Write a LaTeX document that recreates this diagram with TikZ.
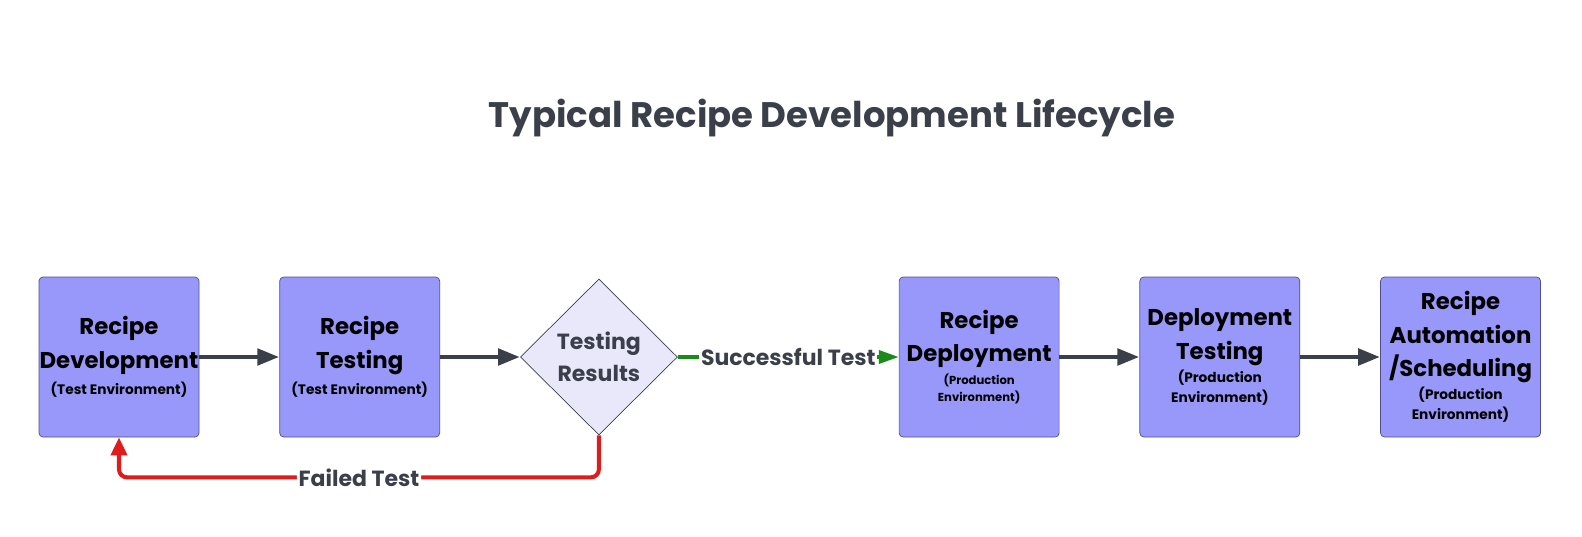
\documentclass[tikz,border=0pt]{standalone}
\usepackage{fontspec}
\setmainfont{Poppins}
\usepackage{xcolor}
\usepackage{tikz}
\usetikzlibrary{arrows.meta,positioning,shapes.geometric,calc}
\definecolor{stepfill}{HTML}{9898FA}
\definecolor{stepdraw}{HTML}{4E4E8E}
\definecolor{decfill}{HTML}{E8E8FA}
\definecolor{darkgray}{HTML}{3A3F4A}
\definecolor{okgreen}{HTML}{1A8A1A}
\definecolor{failred}{HTML}{E01B1B}
\newcommand{\envfont}{\fontsize{7.8}{10}\selectfont\bfseries}
\newcommand{\envsmall}{\fontsize{6.6}{9}\selectfont\bfseries}
\tikzset{
  stepbox/.style={rounded corners=0.08cm, draw=stepdraw, fill=stepfill, align=center, minimum width=3.2cm, minimum height=3.2cm, inner sep=0pt, font=\fontsize{13}{19}\selectfont\bfseries},
  decision/.style={diamond, aspect=1, draw=darkgray, fill=decfill, align=center, minimum width=3.14cm, minimum height=3.12cm, inner sep=0pt, text=darkgray, font=\fontsize{12.5}{18}\selectfont\bfseries},
  arrow/.style={-{Triangle[length=0.44cm,width=0.32cm]}, line width=2.8pt, draw=darkgray},
  okarrow/.style={-{Triangle[length=0.4cm,width=0.26cm]}, line width=2pt, draw=okgreen},
  failarrow/.style={-{Triangle[length=0.36cm,width=0.32cm]}, line width=2.3pt, draw=failred, rounded corners=0.16cm},
  edgelabel/.style={fill=white, inner sep=1pt, text=darkgray, font=\fontsize{12.5}{15}\selectfont\bfseries}
}
\begin{document}
\begin{tikzpicture}[node distance=1.6cm]
  \useasboundingbox (0,0) rectangle (31.64,-10.74);
  \node[text=darkgray, font=\fontsize{20.2}{24}\selectfont\bfseries] (title) at (16.64,-2.36) {Typical Recipe Development Lifecycle};

  \node[stepbox] (dev) at (2.38,-7.14) {Recipe\\Development\\[-4pt]{\envfont (Test Environment)}};
  \node[stepbox, right=of dev] (test) {Recipe\\Testing\\[-4pt]{\envfont (Test Environment)}};
  \node[decision, right=of test] (results) {Testing\\Results};
  \node[stepbox, right=4.42cm of results] (deploy) {Recipe\\Deployment\\[-6pt]{\envsmall (Production}\\[-9pt]{\envsmall Environment)}};
  \node[stepbox, right=of deploy] (deptest) {Deployment\\Testing\\[-6pt]{\envfont (Production}\\[-7.5pt]{\envfont Environment)}};
  \node[stepbox, right=of deptest] (auto) {Recipe\\Automation\\/Scheduling\\[-6pt]{\envfont (Production}\\[-7.5pt]{\envfont Environment)}};

  \draw[arrow] (dev) -- (test);
  \draw[arrow] (test) -- (results);
  \draw[okarrow] (results) -- node[edgelabel] {Successful Test} (deploy);
  \draw[arrow] (deploy) -- (deptest);
  \draw[arrow] (deptest) -- (auto);
  \draw[failarrow] (results.south) -- ++(0,-0.84) -| node[edgelabel, pos=0.25] {Failed Test} (dev.south);
\end{tikzpicture}
\end{document}
